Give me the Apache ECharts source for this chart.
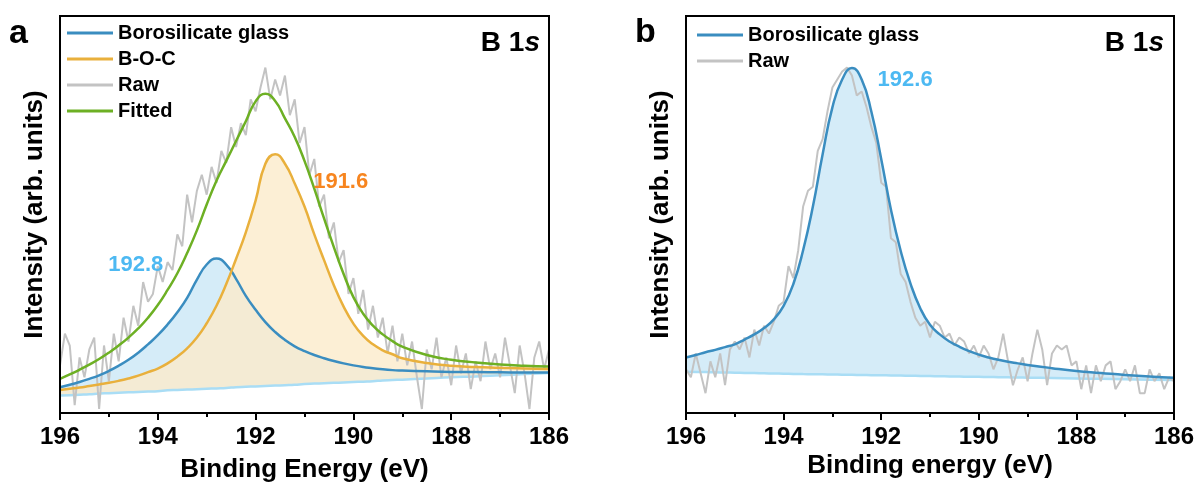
<!DOCTYPE html>
<html><head><meta charset="utf-8">
<script src="https://cdn.jsdelivr.net/npm/echarts@6/dist/echarts.min.js"></script>
<style>html,body{margin:0;padding:0;background:#fff}#c{width:1196px;height:482px}</style>
</head><body><div id="c"></div><script>
// ---------- shared energy grid for fitted curves (eV) ----------
const energy = [196,195.8,195.6,195.4,195.2,195,194.8,194.6,194.4,194.2,194,193.8,193.6,193.4,193.2,193,192.8,192.6,192.4,192.2,192,191.8,191.6,191.4,191.2,191,190.8,190.6,190.4,190.2,190,189.8,189.6,189.4,189.2,189,188.5,188,187.5,187,186.5,186];

// ---------- Panel a (intensity in % of plot height) ----------
const baselineA = [4.4,4.5,4.6,4.7,4.9,5.0,5.1,5.2,5.3,5.4,5.5,5.7,5.8,5.9,6.0,6.1,6.2,6.3,6.5,6.6,6.7,6.8,6.9,7.0,7.1,7.3,7.4,7.5,7.6,7.7,7.8,7.9,8.0,8.2,8.3,8.4,8.7,9.0,9.2,9.5,9.8,10.1];
const borosilicateA = [6.5,7.1,7.8,8.6,9.5,10.6,11.9,13.4,15.2,17.3,19.6,22.3,25.4,29.0,33.6,37.4,38.9,37.4,33.8,29.5,26.0,22.9,20.4,18.4,16.8,15.6,14.6,13.8,13.1,12.5,12.0,11.6,11.3,11.0,10.8,10.7,10.5,10.35,10.3,10.25,10.2,10.2];
const bocA = [5.8,6.1,6.4,6.8,7.2,7.6,8.1,8.7,9.4,10.3,11.2,12.5,14.2,16.3,19.0,22.6,27.0,32.5,38.8,45.5,53.5,62.8,65.2,62.8,57.8,52.0,45.0,38.5,32.2,26.8,22.5,19.4,17.3,15.8,14.8,13.8,12.6,11.9,11.6,11.4,11.2,11.1];
const fittedA = [8.6,9.7,10.9,12.2,13.6,15.2,17.0,19.0,21.3,24.0,27.2,31.0,35.2,40.3,46.0,52.5,58.5,63.5,68.5,73.5,78.5,80.4,78.6,74.2,69.5,63.5,56.5,49.0,41.8,35.0,29.2,25.0,22.0,19.8,18.1,16.7,14.6,13.4,12.7,12.2,11.9,11.7];
// raw spectrum a: 196.0 -> 186.0 in 0.1 eV steps
const rawA = [12,20,17,2,14,9,16,19,1,17,8,20,13,24,18,27,22,33,28,30,37,33,38,36,45,42,55,48,56,60,55,62,58,66,63,72,67,73,70,79,76,82,87,79,84,80,85,75,79,68,72,60,64,52,55,44,48,38,41,30,34,25,31,21,27,19,24,15,22,13,20,12,18,9,1,16,11,19,9,14,7,17,10,15,6,13,8,18,11,15,9,19,12,5,17,10,1,14,18,11,16];

// ---------- Panel b ----------
const baselineB = [10.4,10.35,10.3,10.25,10.2,10.15,10.1,10.05,10.0,9.95,9.9,9.85,9.8,9.78,9.75,9.7,9.66,9.62,9.58,9.54,9.5,9.46,9.42,9.38,9.34,9.3,9.26,9.22,9.18,9.14,9.1,9.06,9.02,8.98,8.94,8.9,8.8,8.7,8.6,8.5,8.4,8.3];
const borosilicateB = [14.0,14.6,15.3,15.9,16.6,17.3,18.5,19.8,21.4,23.6,27.0,32.5,41.0,52.0,65.2,77.0,84.0,86.9,84.0,75.8,64.0,51.2,40.8,32.6,26.4,22.2,19.8,18.0,16.7,15.6,14.7,14.0,13.4,12.9,12.5,12.1,11.3,10.6,10.1,9.6,9.2,8.9];
// raw spectrum b: 196.0 -> 186.0 in 0.1 eV steps
const rawB = [11,9,15,10,5,13,9,15,7,16,18,16,19,14,21,17,22,20,23,27,28,37,34,41,52,56,57,66,69,76,82,84,86,87,85,80,81,77,72,68,58,57,44,43,35,33,28,24,22,23,19,23,22,19,20,17,19,18,15,17,14,17,15,11,14,20,13,7,11,14,8,15,21,16,7,15,17,16,17,12,13,6,12,5,12,8,12,13,6,8,11,8,12,5,5,11,8,10,6,9,8];

const legendA = ['Borosilicate glass','B-O-C','Raw','Fitted'];
const legendB = ['Borosilicate glass','Raw'];

const FONT = '"Liberation Sans", Arial, Helvetica, sans-serif';
const C = {blue:'#3A8DC0', orange:'#E9B03C', green:'#6DB024', raw:'#C3C3C3', base:'#A9DDF5',
           blueFill:'rgba(135,200,235,0.35)', orangeFill:'rgba(251,235,202,0.8)',
           lblBlue:'#4DB9F2', lblOrange:'#F7851F'};

const rawEnergy = n => Array.from({length:n}, (_, i) => +(196 - i*0.1).toFixed(1));
const pairs = (xs, ys) => xs.map((x, i) => [x, ys[i]]);

function xAxis(gi, name, gap){
  return {gridIndex:gi, type:'value', min:186, max:196, interval:2, inverse:true, z:10,
    name:name, nameLocation:'middle', nameGap:gap, nameMoveOverlap:false,
    nameTextStyle:{fontSize:26, fontWeight:'bold', color:'#000', fontFamily:FONT},
    axisLine:{show:true, onZero:false, lineStyle:{color:'#000', width:2}},
    axisTick:{show:true, length:7, lineStyle:{color:'#000', width:2}},
    minorTick:{show:true, splitNumber:2, length:4, lineStyle:{color:'#000', width:2}},
    axisLabel:{fontSize:24, fontWeight:'bold', color:'#000', fontFamily:FONT, margin:12,
      showMinLabel:true, showMaxLabel:true},
    splitLine:{show:false}};
}
function yAxis(gi){
  return {gridIndex:gi, type:'value', min:0, max:100, name:'Intensity (arb. units)',
    nameLocation:'middle', nameRotate:90, nameGap:12, nameMoveOverlap:false,
    nameTextStyle:{fontSize:26, fontWeight:'bold', color:'#000', fontFamily:FONT},
    axisLine:{show:false}, axisTick:{show:false}, axisLabel:{show:false}, splitLine:{show:false}};
}
function area(gi, xs, ys, fill){
  return {type:'line', xAxisIndex:gi, yAxisIndex:gi, data:pairs(xs, ys), smooth:true, symbol:'none',
    silent:true, lineStyle:{width:0, opacity:0}, areaStyle:{color:fill, opacity:1, origin:'start'}};
}
function line(gi, name, xs, ys, color, width, smooth){
  return {type:'line', name:name, xAxisIndex:gi, yAxisIndex:gi, data:pairs(xs, ys), smooth:smooth,
    symbol:'none', silent:true, color:color, itemStyle:{color:color}, lineStyle:{color:color, width:width}};
}
function note(text, coord, color){
  return {symbol:'circle', symbolSize:0, silent:true,
    label:{show:true, position:'inside', fontSize:22, fontWeight:'bold', fontFamily:FONT, color:color},
    data:[{coord:coord, label:{formatter:text}}]};
}

const series = [];
// panel a
series.push(area(0, energy, borosilicateA, C.blueFill));
series.push(area(0, energy, bocA, C.orangeFill));
series.push(area(0, energy, baselineA, '#ffffff'));
series.push(line(0, 'baseA', energy, baselineA, C.base, 2.5, true));
series.push(line(0, 'Raw', rawEnergy(rawA.length), rawA, C.raw, 2, false));
const bA = line(0, 'Borosilicate glass', energy, borosilicateA, C.blue, 2.5, true);
bA.markPoint = note('192.8', [194.45, 37.3], C.lblBlue);
series.push(bA);
const oA = line(0, 'B-O-C', energy, bocA, C.orange, 2.5, true);
oA.markPoint = note('191.6', [190.26, 58.2], C.lblOrange);
series.push(oA);
series.push(line(0, 'Fitted', energy, fittedA, C.green, 2.5, true));
// panel b
series.push(area(1, energy, borosilicateB, C.blueFill));
series.push(area(1, energy, baselineB, '#ffffff'));
series.push(line(1, 'baseB', energy, baselineB, C.base, 2.5, true));
series.push(line(1, 'Raw', rawEnergy(rawB.length), rawB, C.raw, 2, false));
const bB = line(1, 'Borosilicate glass', energy, borosilicateB, C.blue, 2.5, true);
bB.markPoint = note('192.6', [191.51, 83.9], C.lblBlue);
series.push(bB);

const legendText = {fontSize:20, fontWeight:'bold', color:'#000', fontFamily:FONT, lineHeight:20};
const titleTS = {fontSize:34, fontWeight:'bold', color:'#000', fontFamily:FONT};
const b1s = {rich:{n:{fontSize:28, fontWeight:'bold', color:'#000', fontFamily:FONT},
                   i:{fontSize:28, fontWeight:'bold', fontStyle:'italic', color:'#000', fontFamily:FONT}}};

const gridCommon = {show:true, borderColor:'#000', borderWidth:2, z:10, backgroundColor:'transparent',
                    containLabel:false, outerBoundsMode:'none'};
const option = {
  animation:false,
  backgroundColor:'#fff',
  grid:[
    Object.assign({left:60, top:16, width:489, height:397}, gridCommon),
    Object.assign({left:686, top:16, width:488, height:397}, gridCommon)
  ],
  xAxis:[xAxis(0, 'Binding Energy (eV)', 44), xAxis(1, 'Binding energy (eV)', 40)],
  yAxis:[yAxis(0), yAxis(1)],
  title:[
    {text:'a', left:9, top:17, padding:0, textStyle:titleTS},
    {text:'b', left:635, top:16, padding:0, textStyle:titleTS},
    {text:'{n|B 1}{i|s}', right:656, top:29, padding:0, textStyle:b1s},
    {text:'{n|B 1}{i|s}', right:32, top:29, padding:0, textStyle:b1s}
  ],
  legend:[
    {left:67, top:23, orient:'vertical', padding:0, itemWidth:46, itemHeight:3, itemGap:6, icon:'rect',
     selectedMode:false, data:legendA, textStyle:legendText},
    {left:697, top:25, orient:'vertical', padding:0, itemWidth:46, itemHeight:3, itemGap:6, icon:'rect',
     selectedMode:false, data:legendB, textStyle:legendText}
  ],
  series:series
};
const chart = echarts.init(document.getElementById('c'), null, {renderer:'canvas'});
chart.setOption(option);
</script></body></html>
